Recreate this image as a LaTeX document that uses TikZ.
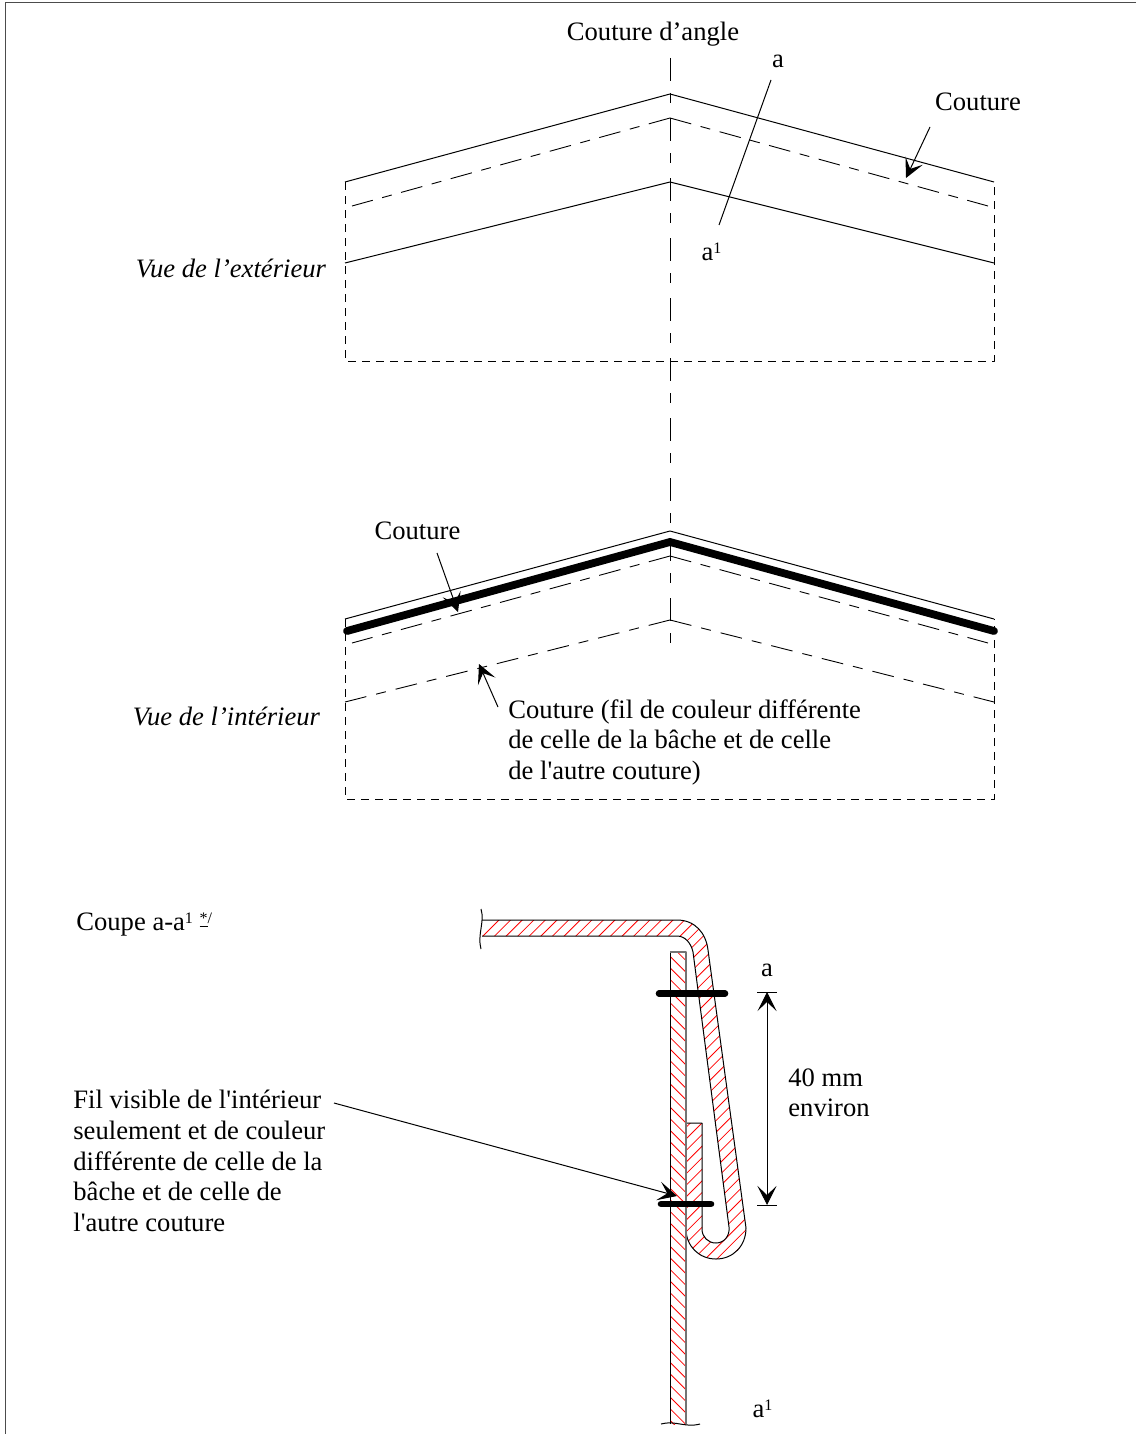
\documentclass[tikz,border=0pt]{standalone}
\usepackage{fontspec}
\setmainfont{Liberation Serif}
\usetikzlibrary{%
	calc,%
	arrows.meta
}
\newcommand{\supone}{\raisebox{3.4pt}{\fontsize{8}{8}\selectfont 1}}
\tikzset{
	solidline/.style={draw, line width=0.5pt},
	seamline/.style={draw, line width=0.45pt, dash pattern=on 11pt off 4.85pt on 5pt off 4.85pt},
	seamlow/.style={draw, line width=0.45pt, dash pattern=on 11pt off 5.05pt on 5pt off 5.05pt},
	boxline/.style={draw, line width=0.5pt, dash pattern=on 4pt off 3pt},
	axisline/.style={draw, line width=0.5pt, dash pattern=on 11.5pt off 6pt on 5pt off 7.5pt},
	hatchline/.style={draw=red, line width=0.4pt},
	stitchline/.style={draw, line width=3.3pt, line cap=round, line join=miter},
	seamthick/.style={stitchline, line width=3.9pt},
	leaderline/.style={draw, line width=0.5pt, -{Stealth[length=9.5pt, width=9.5pt, inset=4.5pt]}},
	dimline/.style={draw, line width=0.5pt, {Stealth[length=9.5pt, width=9.5pt, inset=4.5pt]}-{Stealth[length=9.5pt, width=9.5pt, inset=4.5pt]}},
	labeltext/.style={inner sep=0pt, font=\fontsize{13.3}{15.3}\selectfont}
}

\begin{document}
\begin{tikzpicture}[x=0.5pt, y=-0.5pt, line join=bevel]
	\useasboundingbox (0,0) rectangle (1136,1434);

	% Frame
	\coordinate (fa) at (1136,2.5);
	\coordinate (fb) at (5,2.5);
	\coordinate (fc) at (5,1434);
	\draw[solidline, draw=black!70] (fa) -- (fb) -- (fc);

	% Corner axis
	\coordinate (ax0) at (670,58);
	\coordinate (ax1) at (670,650);
	\draw[axisline] (ax0) -- (ax1);

	% Outside view
	\coordinate (o1) at (345,182);
	\coordinate (o2) at (670,94);
	\coordinate (o3) at (994,182);
	\coordinate (s1) at (352,206);
	\coordinate (s2) at (670,118);
	\coordinate (s3) at (988,206);
	\coordinate (l1) at (345,263);
	\coordinate (l2) at (670,182);
	\coordinate (l3) at (994,263);
	\coordinate (b1) at (345,361);
	\coordinate (b2) at (994,361);
	\draw[solidline] (o1) -- (o2) -- (o3);
	\draw[solidline] (l1) -- (l2) -- (l3);
	\draw[seamline] (s2) -- (s1);
	\draw[seamline] (s2) -- (s3);
	\draw[boxline] (o1) -- (b1) -- (b2) -- (o3);

	% Inside view
	\coordinate (i1) at (345,619);
	\coordinate (i2) at (670,531);
	\coordinate (i3) at (994,619);
	\coordinate (t1) at (347,631);
	\coordinate (t2) at (670,542);
	\coordinate (t3) at (994,631);
	\coordinate (u1) at (352,643);
	\coordinate (u2) at (670,556);
	\coordinate (u3) at (988,643);
	\coordinate (w1) at (345,702);
	\coordinate (w2) at (670,620);
	\coordinate (w3) at (994,702);
	\coordinate (c1) at (345,799);
	\coordinate (c2) at (994,799);
	\draw[solidline] (i1) -- (i2) -- (i3);
	\draw[seamthick] (t1) -- (t2) -- (t3);
	\draw[seamline] (u2) -- (u1);
	\draw[seamline] (u2) -- (u3);
	\draw[seamlow] (w2) -- (w1);
	\draw[seamlow] (w2) -- (w3);
	\draw[boxline] (i1) -- (c1) -- (c2) -- (i3);

	% Hatching of the section
	\begin{scope}
		\clip (482,920) -- (677,920) .. controls (695,920) and (706,933) .. (708,950)
			-- (746,1228) .. controls (746,1246) and (733,1259) .. (716,1259)
			.. controls (699,1259) and (686,1246) .. (686,1229) -- (686,1123) -- (702,1123) -- (702,1229)
			.. controls (702,1237) and (708,1243) .. (716,1243)
			.. controls (724,1243) and (730,1236) .. (729,1227)
			-- (693,952) .. controls (691,943) and (685,936) .. (677,936) -- (482,936) -- cycle;
		\foreach \c in {1419,1430.6,...,2010}
		\draw[hatchline] (470,{\c-470}) -- (760,{\c-760});
	\end{scope}
	\begin{scope}
		\clip (670,952) rectangle (686,1424);
		\foreach \c in {263,274.6,...,770}
		\draw[hatchline] (660,{\c+660}) -- (700,{\c+700});
	\end{scope}

	% Outline of the section
	\coordinate (p0) at (482,920);
	\coordinate (p1) at (677,920);
	\coordinate (p2) at (708,950);
	\coordinate (p3) at (746,1228);
	\coordinate (p4) at (716,1259);
	\coordinate (p5) at (686,1229);
	\coordinate (p6) at (686,1123);
	\coordinate (p7) at (702,1123);
	\coordinate (p8) at (702,1229);
	\coordinate (p9) at (716,1243);
	\coordinate (p10) at (729,1227);
	\coordinate (p11) at (693,952);
	\coordinate (p12) at (677,936);
	\coordinate (p13) at (482,936);
	\draw[solidline] (p0) -- (p1) .. controls (695,920) and (706,933) .. (p2)
		-- (p3) .. controls (746,1246) and (733,1259) .. (p4)
		.. controls (699,1259) and (686,1246) .. (p5) -- (p6) -- (p7) -- (p8)
		.. controls (702,1237) and (708,1243) .. (p9)
		.. controls (724,1243) and (730,1236) .. (p10)
		-- (p11) .. controls (691,943) and (685,936) .. (p12) -- (p13);
	\coordinate (q1) at (670,1424);
	\coordinate (q2) at (670,952);
	\coordinate (q3) at (686,952);
	\coordinate (q4) at (686,1424);
	\draw[solidline] (q1) -- (q2);
	\draw[solidline, line width=0.7pt, draw=black!55] (q2) -- (q3) -- (q4);

	% Broken ends
	\coordinate (e1) at (481,909);
	\coordinate (e2) at (481,949);
	\draw[solidline] (e1) .. controls (485,922) and (477,935) .. (e2);
	\coordinate (e3) at (661,1424);
	\coordinate (e4) at (700,1424);
	\draw[solidline] (e3) .. controls (675,1420) and (685,1428) .. (e4);

	% Stitches
	\coordinate (st1) at (659,993.5);
	\coordinate (st2) at (725,993.5);
	\coordinate (st3) at (661,1204);
	\coordinate (st4) at (711,1204);
	\draw[stitchline] (st1) -- (st2);
	\draw[stitchline] (st3) -- (st4);

	% Dimension
	\coordinate (d1) at (767,992);
	\coordinate (d2) at (767,1205);
	\coordinate (d1a) at (757,992);
	\coordinate (d1b) at (777,992);
	\coordinate (d2a) at (757,1205);
	\coordinate (d2b) at (777,1205);
	\draw[solidline] (d1a) -- (d1b);
	\draw[solidline] (d2a) -- (d2b);
	\draw[dimline] (d1) -- (d2);

	% Labels
	\node[labeltext, anchor=base] (corner) at (653,41) {Couture d’angle};
	\node[labeltext, anchor=base] (cuta) at (778,68) {a};
	\node[labeltext, anchor=base] (cutb) at (711.5,260) {a\supone};
	\node[labeltext, anchor=base] (seamo) at (978,111) {Couture};
	\node[labeltext, anchor=base west] (viewo) at (135.5,277) {\itshape Vue de l’extérieur};
	\node[labeltext, anchor=base] (seami) at (417.5,539) {Couture};
	\node[labeltext, anchor=base west] (viewi) at (132.5,725) {\itshape Vue de l’intérieur};
	\node[labeltext, anchor=north west, align=left] (seamd) at (508,699) {Couture (fil de couleur différente\\de celle de la bâche et de celle\\de l\textquotesingle autre couture)};
	\node[labeltext, anchor=base west] (coupe) at (76,930) {Coupe a-a\supone\ \raisebox{3.4pt}{\fontsize{8}{8}\selectfont\underline{*}/}};
	\node[labeltext, anchor=base] (seca) at (767,976) {a};
	\node[labeltext, anchor=base] (secb) at (762.5,1417) {a\supone};
	\node[labeltext, anchor=north west, align=left] (dimtext) at (788,1068) {40 mm\\environ};
	\node[labeltext, anchor=north west, align=left] (fil) at (73,1090) {Fil visible de l\textquotesingle intérieur\\seulement et de couleur\\différente de celle de la\\bâche et de celle de\\l\textquotesingle autre couture};

	% Leaders
	\coordinate (la) at (771,80);
	\coordinate (lb) at (719,225);
	\draw[solidline] (la) -- (lb);
	\coordinate (m1) at (930,127);
	\coordinate (m2) at (906,178);
	\draw[leaderline] (m1) -- (m2);
	\coordinate (m3) at (437,553);
	\coordinate (m4) at (458,612);
	\draw[leaderline] (m3) -- (m4);
	\coordinate (m5) at (498,707);
	\coordinate (m6) at (479,664);
	\draw[leaderline] (m5) -- (m6);
	\coordinate (m7) at (334,1103);
	\coordinate (m8) at (677,1196);
	\draw[leaderline] (m7) -- (m8);
\end{tikzpicture}
\end{document}
